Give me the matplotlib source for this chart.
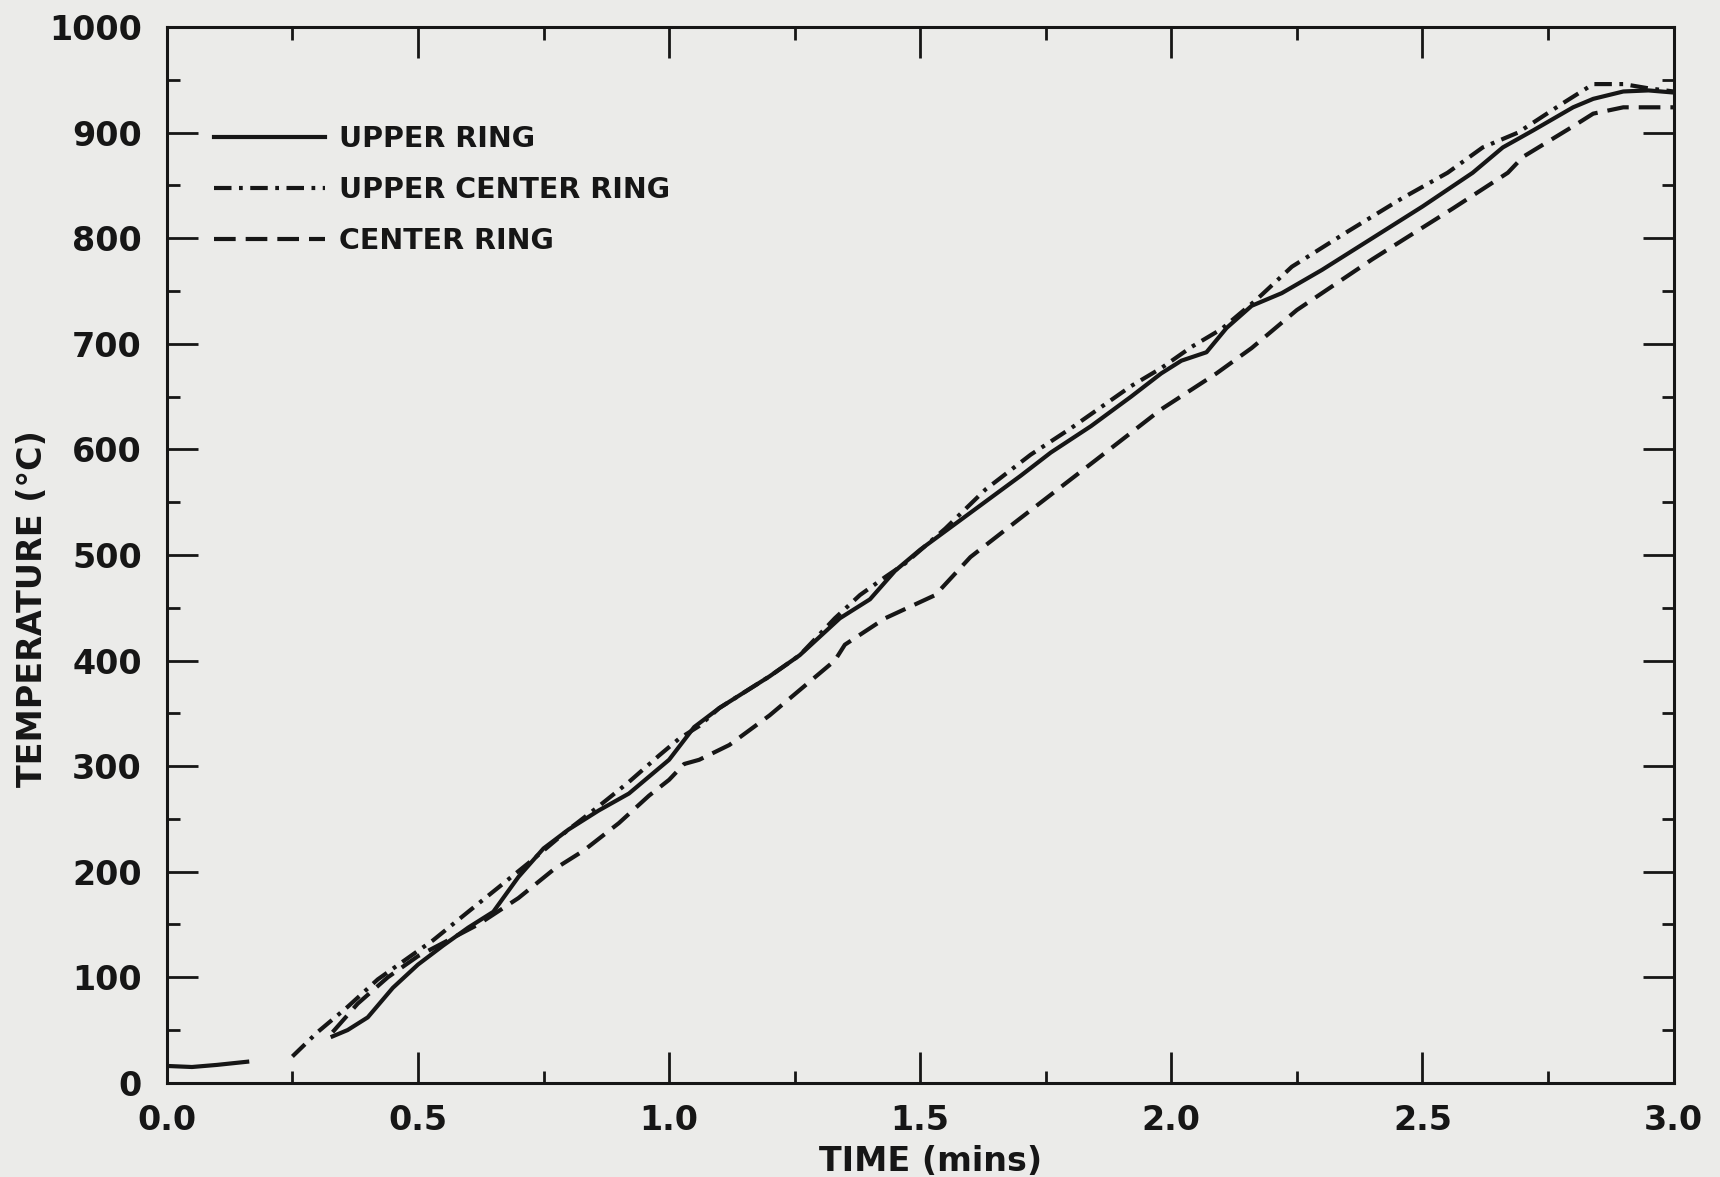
import numpy as np
import matplotlib.pyplot as plt
from matplotlib.ticker import MultipleLocator

# time in minutes, temperature in deg C
upper_time = [0.00, 0.05, 0.10, 0.16, np.nan,
              0.33, 0.36, 0.40, 0.45, 0.50, 0.55, 0.60, 0.65, 0.70, 0.75,
              0.80, 0.86, 0.92, 1.00, 1.05, 1.10, 1.20, 1.26, 1.34, 1.40,
              1.45, 1.50, 1.60, 1.70, 1.76, 1.84, 1.92, 1.98, 2.02, 2.07,
              2.11, 2.16, 2.22, 2.30, 2.40, 2.50, 2.60, 2.66, 2.72, 2.80,
              2.84, 2.90, 2.95, 3.00]
upper_temp = [16, 15, 17, 20, np.nan,
              44, 50, 62, 90, 112, 130, 147, 162, 195, 222,
              240, 258, 274, 306, 337, 355, 385, 405, 440, 458,
              485, 505, 540, 575, 597, 622, 650, 672, 684, 692,
              715, 736, 748, 770, 800, 830, 862, 886, 902, 924,
              932, 939, 940, 938]

upper_center_time = [0.25, 0.30, 0.36, 0.42, 0.50, 0.53, 0.60, 0.66, 0.73,
                     0.80, 0.86, 0.92, 0.98, 1.02, 1.06, 1.10, 1.20, 1.26,
                     1.33, 1.38, 1.43, 1.47, 1.55, 1.63, 1.72, 1.80, 1.92,
                     1.98, 2.04, 2.10, 2.17, 2.24, 2.35, 2.46, 2.55, 2.62,
                     2.69, 2.78, 2.84, 2.90, 2.95, 3.00]
upper_center_temp = [25, 48, 72, 98, 125, 135, 162, 185, 212,
                     240, 262, 285, 310, 326, 338, 355, 385, 405,
                     440, 462, 479, 492, 525, 562, 595, 620, 660,
                     677, 697, 714, 742, 773, 806, 838, 862, 886,
                     900, 928, 946, 946, 942, 939]

center_time = [0.33, 0.38, 0.44, 0.50, 0.56, 0.62, 0.70, 0.77, 0.83, 0.90,
               0.96, 1.00, 1.03, 1.06, 1.12, 1.20, 1.28, 1.33, 1.35, 1.43,
               1.53, 1.60, 1.70, 1.79, 1.85, 1.98, 2.09, 2.16, 2.25, 2.40,
               2.56, 2.67, 2.70, 2.80, 2.84, 2.90, 3.00]
center_temp = [48, 75, 100, 120, 135, 150, 175, 202, 220, 246,
               272, 287, 302, 306, 320, 348, 380, 400, 415, 440,
               462, 498, 535, 568, 590, 638, 672, 696, 732, 780,
               828, 862, 877, 906, 918, 924, 924]

labels = ["UPPER RING", "UPPER CENTER RING", "CENTER RING"]

ink = "#161616"
paper = "#ebebe9"

plt.rcParams["font.family"] = ["DejaVu Sans"]
plt.rcParams["font.weight"] = "bold"

fig = plt.figure(figsize=(17.2, 11.77), dpi=100, facecolor=paper)
ax = fig.add_axes([0.097, 0.080, 0.876, 0.897])
ax.set_facecolor(paper)

lw = 3.0
ax.plot(upper_time, upper_temp, color=ink, lw=lw, label=labels[0])
ax.plot(upper_center_time, upper_center_temp, color=ink, lw=lw,
        dashes=(4.2, 1.8, 0.9, 1.8), label=labels[1])
ax.plot(center_time, center_temp, color=ink, lw=lw,
        dashes=(5.2, 2.4), label=labels[2])

ax.set_xlim(0, 3.0)
ax.set_ylim(0, 1000)
ax.xaxis.set_major_locator(MultipleLocator(0.5))
ax.xaxis.set_minor_locator(MultipleLocator(0.25))
ax.yaxis.set_major_locator(MultipleLocator(100))
ax.yaxis.set_minor_locator(MultipleLocator(50))
ax.xaxis.set_major_formatter(plt.FuncFormatter(lambda v, p: f"{v:.1f}"))

for s in ax.spines.values():
    s.set_linewidth(2.2)
    s.set_color(ink)

ax.tick_params(which="both", direction="in", top=True, right=True,
               color=ink, width=2.0, labelsize=24, labelcolor=ink)
ax.tick_params(which="major", length=22)
ax.tick_params(which="minor", length=9)
ax.tick_params(axis="x", which="major", pad=15)
ax.tick_params(axis="y", which="major", pad=18)

# axis titles
fig.text(0.541, 0.013, "TIME (mins)", ha="center", va="center",
         fontsize=24, fontweight="bold", color=ink)
fig.text(0.019, 0.483, "TEMPERATURE (\u00b0C)", ha="center", va="center",
         rotation=90, fontsize=24, fontweight="bold", color=ink)

leg = ax.legend(loc="upper left", bbox_to_anchor=(0.031, 0.907),
                frameon=False, fontsize=20.5, handlelength=3.9,
                handletextpad=0.5, labelspacing=0.8, borderpad=0,
                borderaxespad=0)
for t in leg.get_texts():
    t.set_color(ink)
    t.set_fontweight("bold")

fig.savefig("out.png", dpi=100, facecolor=paper)
